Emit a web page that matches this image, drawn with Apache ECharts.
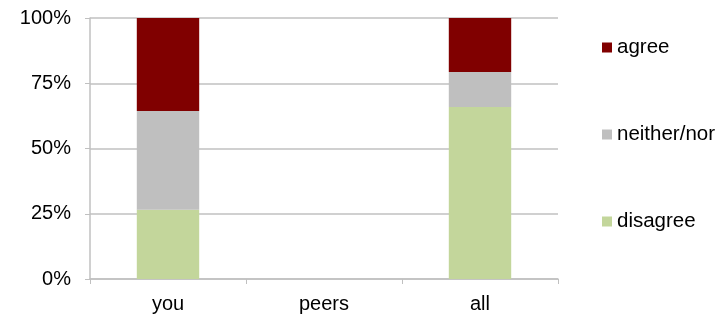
<!DOCTYPE html>
<html lang="en">
<head>
    <meta charset="utf-8"/>
    <title>agree / disagree</title>
    <script src="https://cdn.jsdelivr.net/npm/echarts@6/dist/echarts.min.js"></script>
    <style>
        html, body { margin: 0; padding: 0; background: #fff; }
        #main { width: 727px; height: 317px; }
    </style>
</head>
<body>
<div id="main"></div>
<script>
    // data (percent of answers)
    var categories = ['you', 'peers', 'all'];
    var disagree = [26.5, null, 65.9];
    var neither = [37.9, null, 13.4];
    var agree = [35.6, null, 20.7];
    var yTicks = [0, 25, 50, 75, 100];

    var lineColor = '#c0c0c0';
    var font = 'Liberation Sans, Arial, sans-serif';

    var myChart = echarts.init(document.getElementById('main'));

    var option = {
        animation: false,
        grid: {left: 90, right: 169, top: 18, bottom: 38},
        legend: {
            orient: 'vertical',
            left: 597,
            top: 32,
            itemWidth: 10,
            itemHeight: 10,
            itemGap: 66,
            icon: 'rect',
            data: ['agree', 'neither/nor', 'disagree'],
            textStyle: {fontFamily: font, fontSize: 20.5, color: '#000', lineHeight: 20}
        },
        xAxis: {
            type: 'category',
            data: categories,
            axisLine: {lineStyle: {color: lineColor, width: 1.5}},
            axisTick: {show: true, length: 5, lineStyle: {color: lineColor}},
            axisLabel: {fontFamily: font, fontSize: 20, color: '#000', margin: 15}
        },
        yAxis: {
            type: 'value',
            min: yTicks[0],
            max: yTicks[yTicks.length - 1],
            interval: 25,
            axisLine: {show: true, lineStyle: {color: lineColor, width: 1.5}},
            axisTick: {show: true, length: 5, lineStyle: {color: lineColor}},
            splitLine: {lineStyle: {color: lineColor, width: 1.5}},
            axisLabel: {fontFamily: font, fontSize: 20, color: '#000', margin: 19, formatter: '{value}%'}
        },
        series: [
            {name: 'disagree', type: 'bar', stack: 'all', barWidth: '40%', data: disagree, itemStyle: {color: '#c3d69b'}},
            {name: 'neither/nor', type: 'bar', stack: 'all', data: neither, itemStyle: {color: '#bfbfbf'}},
            {name: 'agree', type: 'bar', stack: 'all', data: agree, itemStyle: {color: '#800000'}}
        ]
    };

    myChart.setOption(option);
</script>
</body>
</html>
